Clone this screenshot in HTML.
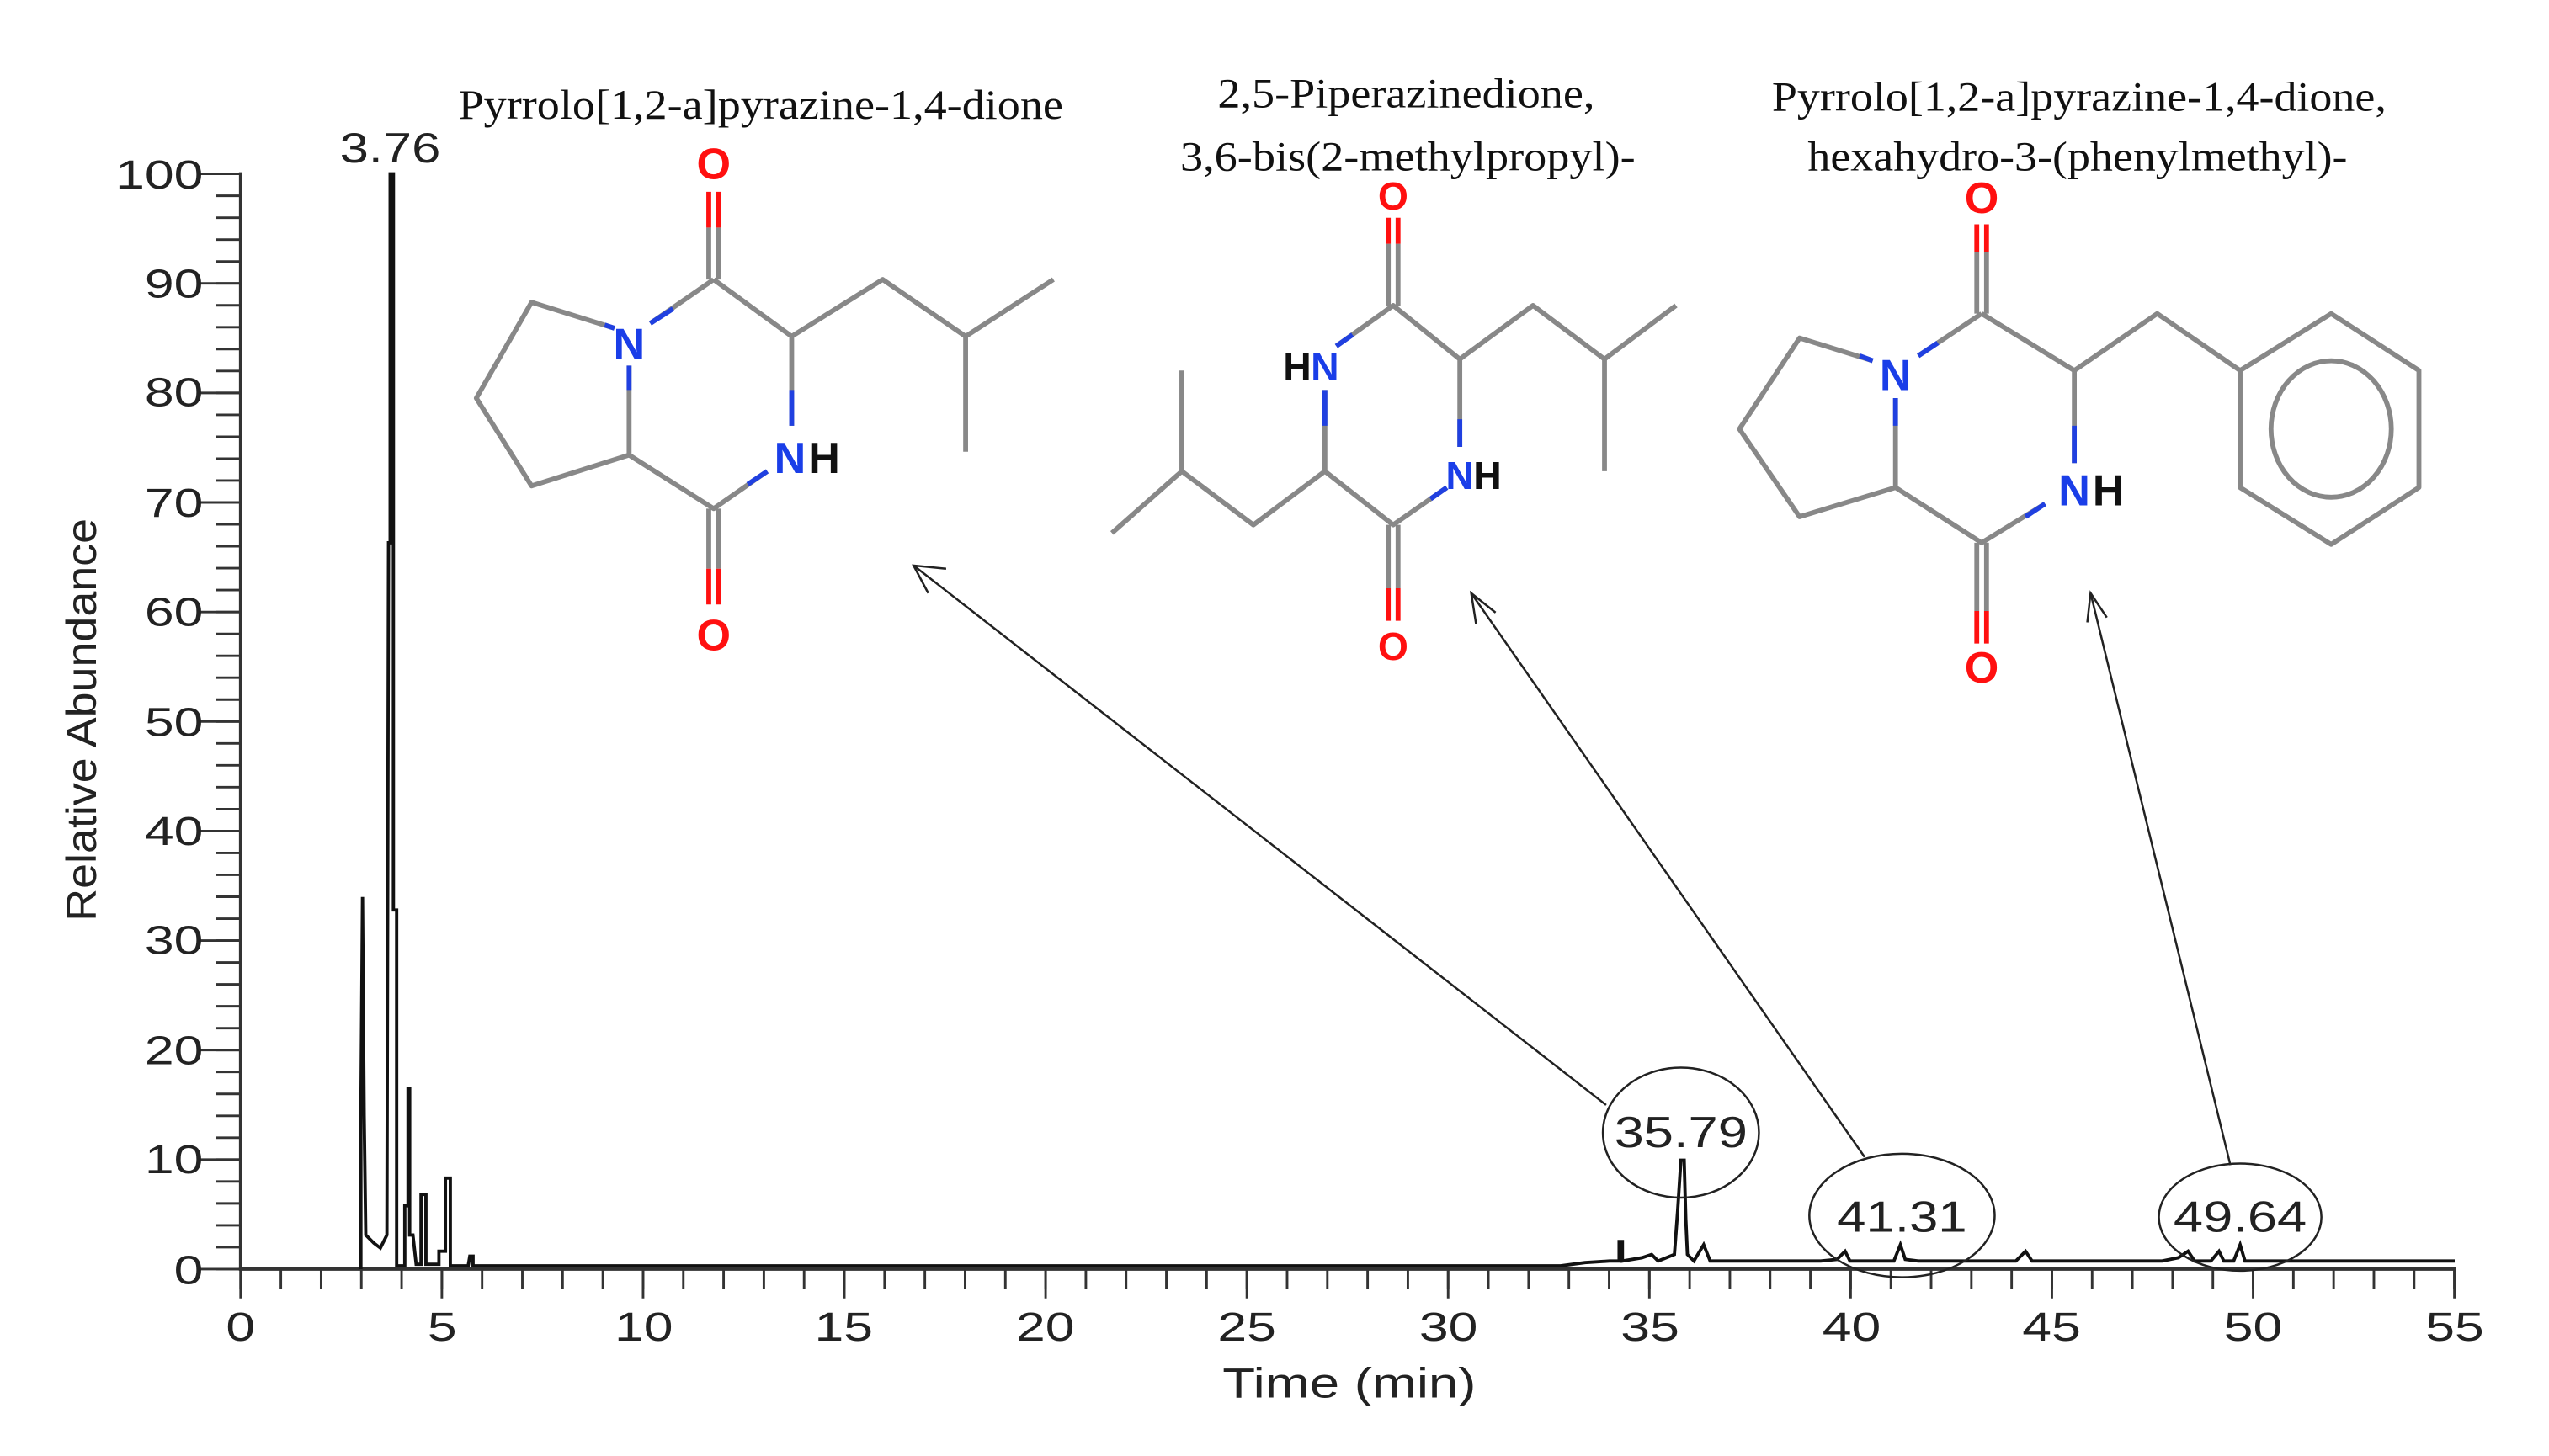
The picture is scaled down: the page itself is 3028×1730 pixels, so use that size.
<!DOCTYPE html>
<html><head><meta charset="utf-8"><style>html,body{margin:0;padding:0;background:#fff}svg{display:block}</style></head>
<body>
<svg width="3028" height="1730" viewBox="0 0 1568 896" preserveAspectRatio="none" xmlns="http://www.w3.org/2000/svg">
<rect width="1568" height="896" fill="#fff"/>
<!-- axes -->
<g stroke="#333" fill="none">
<line x1="148" y1="106" x2="148" y2="782" stroke-width="2"/>
<line x1="147" y1="781" x2="1511" y2="781" stroke-width="2"/>
<line x1="140.5" y1="106.25" x2="140.5" y2="782" stroke-width="15" stroke-dasharray="1.5 11.98"/>
<line x1="135.5" y1="106.25" x2="135.5" y2="782" stroke-width="25" stroke-dasharray="1.5 65.9"/>
<line x1="147.25" y1="787" x2="1511" y2="787" stroke-width="12" stroke-dasharray="1.5 23.26"/>
<line x1="147.25" y1="790" x2="1511" y2="790" stroke-width="18" stroke-dasharray="1.5 122.3"/>
</g>
<g font-family="Liberation Sans, sans-serif" font-size="25" fill="#222" text-anchor="end" lengthAdjust="spacingAndGlyphs">
<text x="125" y="116" textLength="54" lengthAdjust="spacingAndGlyphs">100</text>
<text x="125" y="183" textLength="36" lengthAdjust="spacingAndGlyphs">90</text><text x="125" y="250" textLength="36" lengthAdjust="spacingAndGlyphs">80</text>
<text x="125" y="318" textLength="36" lengthAdjust="spacingAndGlyphs">70</text><text x="125" y="385" textLength="36" lengthAdjust="spacingAndGlyphs">60</text><text x="125" y="453" textLength="36" lengthAdjust="spacingAndGlyphs">50</text>
<text x="125" y="520" textLength="36" lengthAdjust="spacingAndGlyphs">40</text><text x="125" y="587" textLength="36" lengthAdjust="spacingAndGlyphs">30</text><text x="125" y="655" textLength="36" lengthAdjust="spacingAndGlyphs">20</text>
<text x="125" y="722" textLength="36" lengthAdjust="spacingAndGlyphs">10</text><text x="125" y="790" textLength="18" lengthAdjust="spacingAndGlyphs">0</text>
</g>
<g font-family="Liberation Sans, sans-serif" font-size="25" fill="#222" text-anchor="middle">
<text x="148" y="825" textLength="18" lengthAdjust="spacingAndGlyphs">0</text><text x="272" y="825" textLength="18" lengthAdjust="spacingAndGlyphs">5</text><text x="396" y="825" textLength="36" lengthAdjust="spacingAndGlyphs">10</text>
<text x="519" y="825" textLength="36" lengthAdjust="spacingAndGlyphs">15</text><text x="643" y="825" textLength="36" lengthAdjust="spacingAndGlyphs">20</text><text x="767" y="825" textLength="36" lengthAdjust="spacingAndGlyphs">25</text>
<text x="891" y="825" textLength="36" lengthAdjust="spacingAndGlyphs">30</text><text x="1015" y="825" textLength="36" lengthAdjust="spacingAndGlyphs">35</text><text x="1139" y="825" textLength="36" lengthAdjust="spacingAndGlyphs">40</text>
<text x="1262" y="825" textLength="36" lengthAdjust="spacingAndGlyphs">45</text><text x="1386" y="825" textLength="36" lengthAdjust="spacingAndGlyphs">50</text><text x="1510" y="825" textLength="36" lengthAdjust="spacingAndGlyphs">55</text>
<text x="830" y="860" font-size="26" textLength="156" lengthAdjust="spacingAndGlyphs">Time (min)</text>
<text x="240" y="100" font-size="26" textLength="62" lengthAdjust="spacingAndGlyphs">3.76</text>
<text x="0" y="0" font-size="26" transform="translate(59,443) rotate(-90)" textLength="248" lengthAdjust="spacingAndGlyphs">Relative Abundance</text>
<text x="1034" y="706" font-size="27" textLength="82" lengthAdjust="spacingAndGlyphs">35.79</text>
<text x="1170" y="758" font-size="27" textLength="80" lengthAdjust="spacingAndGlyphs">41.31</text>
<text x="1378" y="758" font-size="27" textLength="82" lengthAdjust="spacingAndGlyphs">49.64</text>
</g>
<!-- chromatogram -->
<g fill="none" stroke="#111" stroke-width="2">
<polyline points="222,781 222,686 223,552 224,686 225,760 230,765 234,768 236,764 238,760 239,334 240,334 240,107 242,107 242,560 244,560 244,779 249,779 249,742 251,742 251,670 252,670 252,760 254,760 256,778 259,778 259,735 262,735 262,778 270,778 270,770 274,770 274,725 277,725 277,779 288,779 289,773 291,773 291,779 960,779 975,777 990,776 996,776 996,764 998,764 998,776 1010,774 1016,772 1020,776 1030,772 1032,745 1034,714 1036,714 1037,750 1038,772 1042,776 1048,766 1052,776 1120,776 1130,775 1135,770 1138,776 1165,776 1169,766 1172,775 1180,776 1240,776 1246,770 1250,776 1330,776 1340,774 1346,770 1350,776 1360,776 1365,770 1368,776 1374,776 1378,766 1381,776 1510,776"/>
</g>
<!-- ellipses -->
<g fill="none" stroke="#222" stroke-width="1.3">
<ellipse cx="1034" cy="697" rx="48" ry="40"/>
<ellipse cx="1170" cy="748" rx="57" ry="38"/>
<ellipse cx="1378" cy="749" rx="50" ry="33"/>
</g>
<!-- arrows -->
<g fill="none" stroke="#222" stroke-width="1.3">
<line x1="988" y1="680" x2="562" y2="348"/><polyline points="582,350 562,348 571,365"/>
<line x1="1147" y1="712" x2="905" y2="365"/><polyline points="920,377 905,365 908,384"/>
<line x1="1372" y1="717" x2="1286" y2="365"/><polyline points="1296,380 1286,365 1284,383"/>
</g>
<!-- titles -->
<g font-family="Liberation Serif, serif" font-size="26" fill="#111" text-anchor="middle">
<text x="468" y="73" textLength="372" lengthAdjust="spacingAndGlyphs">Pyrrolo[1,2-a]pyrazine-1,4-dione</text>
<text x="865" y="66" textLength="232" lengthAdjust="spacingAndGlyphs">2,5-Piperazinedione,</text>
<text x="866" y="105" textLength="280" lengthAdjust="spacingAndGlyphs">3,6-bis(2-methylpropyl)-</text>
<text x="1279" y="68" textLength="378" lengthAdjust="spacingAndGlyphs">Pyrrolo[1,2-a]pyrazine-1,4-dione,</text>
<text x="1278" y="105" textLength="332" lengthAdjust="spacingAndGlyphs">hexahydro-3-(phenylmethyl)-</text>
</g>
<!-- molecule 1 -->
<g fill="none" stroke="#888" stroke-width="3" stroke-linejoin="round">
<line x1="436" y1="140" x2="436" y2="172"/><line x1="442" y1="140" x2="442" y2="172"/>
<line x1="439" y1="172" x2="400" y2="199"/>
<line x1="387" y1="225" x2="387" y2="280"/>
<polyline points="378,202 327,186 293,245 327,299 387,280 439,313 472,290"/>
<polyline points="439,172 487,207 487,262"/>
<polyline points="487,207 543,172 594,207 648,172"/>
<line x1="594" y1="207" x2="594" y2="278"/>
<line x1="436" y1="313" x2="436" y2="350"/><line x1="442" y1="313" x2="442" y2="350"/>
</g>
<g stroke="#ff1010" stroke-width="3"><line x1="436" y1="118" x2="436" y2="140"/><line x1="442" y1="118" x2="442" y2="140"/><line x1="436" y1="350" x2="436" y2="372"/><line x1="442" y1="350" x2="442" y2="372"/></g>
<g stroke="#2040e0" stroke-width="3"><line x1="400" y1="199" x2="414" y2="190"/><line x1="387" y1="225" x2="387" y2="240"/><line x1="372" y1="200" x2="378" y2="202"/><line x1="487" y1="240" x2="487" y2="262"/><line x1="460" y1="298" x2="472" y2="290"/></g>
<!-- molecule 2 -->
<g fill="none" stroke="#888" stroke-width="3" stroke-linejoin="round">
<line x1="854" y1="150" x2="854" y2="188"/><line x1="860" y1="150" x2="860" y2="188"/>
<polyline points="822,213 857,188 898,221 898,275"/>
<polyline points="815,240 815,290 857,323 890,300"/>
<polyline points="898,221 943,188 987,221 1031,188"/><line x1="987" y1="221" x2="987" y2="290"/>
<polyline points="815,290 771,323 727,290 684,328"/><line x1="727" y1="290" x2="727" y2="228"/>
<line x1="854" y1="323" x2="854" y2="362"/><line x1="860" y1="323" x2="860" y2="362"/>
</g>
<g stroke="#ff1010" stroke-width="3"><line x1="854" y1="134" x2="854" y2="150"/><line x1="860" y1="134" x2="860" y2="150"/><line x1="854" y1="362" x2="854" y2="382"/><line x1="860" y1="362" x2="860" y2="382"/></g>
<g stroke="#2040e0" stroke-width="3"><line x1="815" y1="240" x2="815" y2="262"/><line x1="898" y1="258" x2="898" y2="275"/><line x1="822" y1="213" x2="832" y2="206"/><line x1="880" y1="307" x2="890" y2="300"/></g>
<!-- molecule 3 -->
<g fill="none" stroke="#888" stroke-width="3" stroke-linejoin="round">
<line x1="1216" y1="155" x2="1216" y2="193"/><line x1="1222" y1="155" x2="1222" y2="193"/>
<line x1="1219" y1="193" x2="1180" y2="219"/>
<polyline points="1152,222 1107,208 1070,264 1107,318 1166,300 1219,334 1258,310"/>
<line x1="1166" y1="245" x2="1166" y2="300"/>
<polyline points="1219,193 1276,228 1276,285"/>
<polyline points="1276,228 1327,193 1378,228"/>
<polygon points="1378,228 1434,193 1488,228 1488,300 1434,335 1378,300"/>
<ellipse cx="1434" cy="264" rx="37" ry="42"/>
<line x1="1216" y1="334" x2="1216" y2="376"/><line x1="1222" y1="334" x2="1222" y2="376"/>
</g>
<g stroke="#ff1010" stroke-width="3"><line x1="1216" y1="138" x2="1216" y2="155"/><line x1="1222" y1="138" x2="1222" y2="155"/><line x1="1216" y1="376" x2="1216" y2="396"/><line x1="1222" y1="376" x2="1222" y2="396"/></g>
<g stroke="#2040e0" stroke-width="3"><line x1="1180" y1="219" x2="1192" y2="211"/><line x1="1166" y1="245" x2="1166" y2="262"/><line x1="1276" y1="262" x2="1276" y2="285"/><line x1="1246" y1="318" x2="1258" y2="310"/><line x1="1144" y1="219" x2="1152" y2="222"/></g>
<!-- atom labels -->
<g font-family="Liberation Sans, sans-serif" font-weight="bold" font-size="27" text-anchor="middle">
<text x="439" y="110" fill="#ff1010">O</text>
<text x="439" y="400" fill="#ff1010">O</text>
<text x="387" y="221" fill="#1a3ee8">N</text>
<text x="486" y="291" fill="#1a3ee8">N</text><text x="507" y="291" fill="#111">H</text>
<text x="857" y="129" fill="#ff1010" font-size="24">O</text>
<text x="857" y="406" fill="#ff1010" font-size="24">O</text>
<text x="798" y="234" fill="#111" font-size="24">H</text><text x="815" y="234" fill="#1a3ee8" font-size="24">N</text>
<text x="898" y="301" fill="#1a3ee8" font-size="24">N</text><text x="915" y="301" fill="#111" font-size="24">H</text>
<text x="1219" y="131" fill="#ff1010">O</text>
<text x="1219" y="420" fill="#ff1010">O</text>
<text x="1166" y="240" fill="#1a3ee8">N</text>
<text x="1276" y="311" fill="#1a3ee8">N</text><text x="1297" y="311" fill="#111">H</text>
</g>
</svg>
</body></html>
